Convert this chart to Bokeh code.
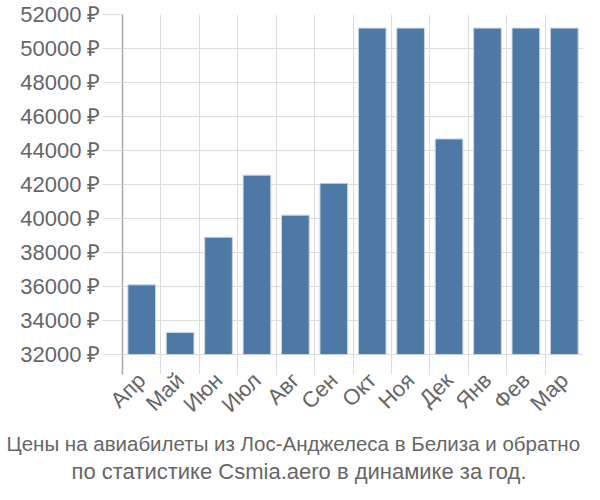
from bokeh.plotting import figure
from bokeh.models import Range1d, FixedTicker, Title, ColumnDataSource
from bokeh.embed import file_html
from bokeh.resources import INLINE
import math

months = ["Апр", "Май", "Июн", "Июл", "Авг", "Сен", "Окт", "Ноя", "Дек", "Янв", "Фев", "Мар"]
prices = [36100, 33300, 38900, 42550, 40200, 42070, 51200, 51200, 44680, 51200, 51200, 51200]
y_ticks = [32000, 34000, 36000, 38000, 40000, 42000, 44000, 46000, 48000, 50000, 52000]
title_lines = ["Цены на авиабилеты из Лос-Анджелеса в Белиза и обратно",
               "по статистике Csmia.aero в динамике за год."]

n = len(months)
centers = [i + 0.5 for i in range(n)]
bounds = list(range(n + 1))

W, H = 584, 484
left, right, top, bottom = 122, 1, 14, 109
frame_h = H - top - bottom
# frame extends 20px below the lowest tick so that grid lines continue as tick marks
px_per_unit = (frame_h - 20) / (y_ticks[-1] - y_ticks[0])
y_start = y_ticks[0] - 20 / px_per_unit

src = ColumnDataSource(dict(x=centers, top=prices, month=months))

p = figure(width=W, height=H, output_backend="svg", toolbar_location=None,
           x_range=Range1d(0, n), y_range=Range1d(y_start, y_ticks[-1]),
           min_border_left=left, min_border_right=right, min_border_top=top,
           min_border_bottom=bottom)
p.outline_line_color = None
p.background_fill_color = "white"
p.border_fill_color = "white"

grid_col = "#dcdcdc"
text_col = "#666666"

p.vbar(x="x", top="top", bottom=y_ticks[0], width=0.72, source=src,
       fill_color="#4e79a7", line_color="#c9d5e3", line_width=1)

xa = p.xaxis[0]
xa.ticker = FixedTicker(ticks=centers)
xa.major_label_overrides = {c: m for c, m in zip(centers, months)}
xa.major_label_orientation = math.pi / 4
xa.major_tick_line_color = None
xa.major_tick_out = 0
xa.major_tick_in = 0
xa.minor_tick_line_color = None
xa.axis_line_color = None
xa.major_label_standoff = 2
xa.major_label_text_font = "Liberation Sans"
xa.major_label_text_font_size = "22px"
xa.major_label_text_color = text_col

p.xgrid.ticker = FixedTicker(ticks=bounds)
p.xgrid.grid_line_color = grid_col
p.xgrid.grid_line_width = 1

ya = p.yaxis[0]
ya.ticker = FixedTicker(ticks=y_ticks)
ya.major_label_overrides = {t: f"{t} ₽" for t in y_ticks}
ya.major_tick_out = 20
ya.major_tick_in = 0
ya.major_tick_line_color = grid_col
ya.minor_tick_line_color = None
ya.axis_line_color = "#aaaaaa"
ya.axis_line_width = 1.5
ya.major_label_standoff = 2
ya.major_label_text_font = "Liberation Sans"
ya.major_label_text_font_size = "22px"
ya.major_label_text_color = text_col
p.ygrid.grid_line_color = grid_col
p.ygrid.grid_line_width = 1

# titles below the chart, left-aligned with offsets so they sit centred on the canvas
title_sizes = ["20.5px", "22px"]
title_offsets = [-116, -51]
for line, fs, off in zip(title_lines, title_sizes, title_offsets):
    p.add_layout(Title(text=line, align="left", offset=off, text_font="Liberation Sans",
                       text_font_size=fs, text_font_style="normal", text_color=text_col,
                       standoff=2), "below")

open("out.html", "w").write(file_html(p, INLINE))
